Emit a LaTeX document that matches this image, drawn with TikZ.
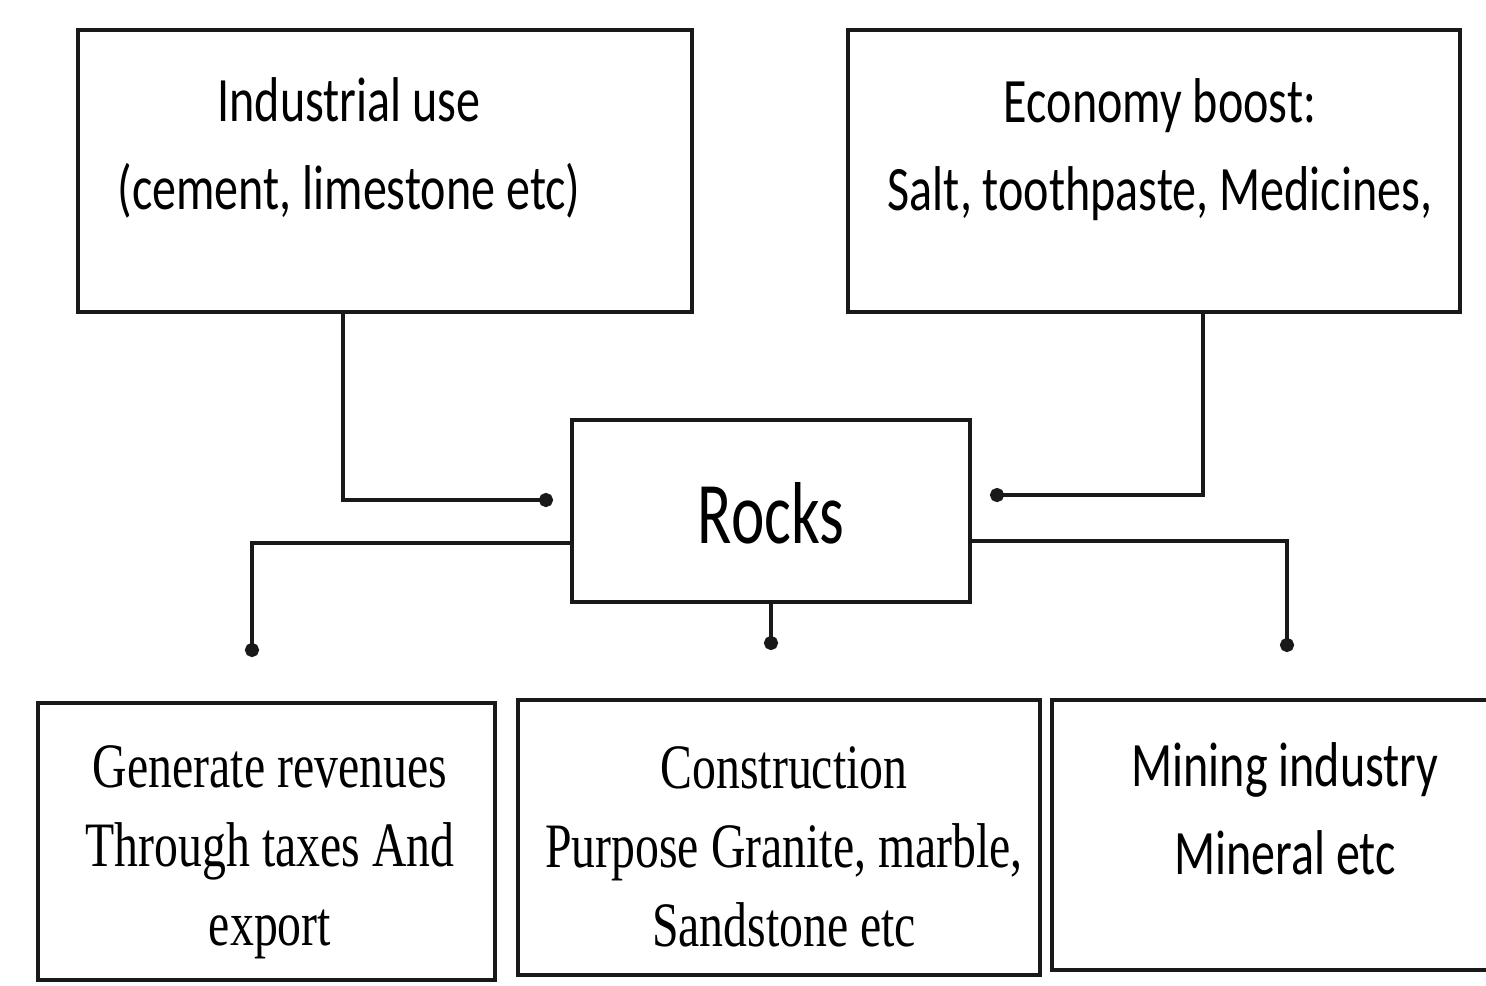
\documentclass[tikz,border=0pt]{standalone}
\usepackage{fontspec}
\usetikzlibrary{arrows.meta}
\newfontfamily\condsans[FakeStretch=0.76]{Carlito}
\newfontfamily\rocksfont[FakeStretch=0.72]{Carlito}
\newfontfamily\condserif[FakeStretch=0.755]{Liberation Serif}
\tikzset{
  box/.style={draw=black!90, line width=1.2pt, inner sep=0pt, outer sep=0pt},
  sanslabel/.style={font=\condsans\fontsize{18}{25}\selectfont, align=center, inner sep=0pt},
  seriflabel/.style={font=\condserif\fontsize{18}{22.5}\selectfont, align=center, inner sep=0pt},
  link/.style={draw=black!90, line width=1.2pt, -{Circle[length=4pt]}},
}
\begin{document}
\begin{tikzpicture}[x=0.1mm, y=-0.1mm]
\useasboundingbox (0,0) rectangle (1486,985);
\fill[white] (0,0) rectangle (1486,985);
% boxes
\node[box, minimum width=61.4mm, minimum height=28.2mm] (ind) at (385,171) {};
\node[box, minimum width=61.2mm, minimum height=28.2mm] (eco) at (1154,171) {};
\node[box, minimum width=39.8mm, minimum height=18.2mm] (rocks) at (771,511) {};
\node[box, minimum width=45.7mm, minimum height=27.7mm] (gen) at (266.5,841.5) {};
\node[box, minimum width=52.2mm, minimum height=27.5mm] (con) at (779,837.5) {};
\node[box, minimum width=44.3mm, minimum height=27.0mm] (min) at (1273.5,835) {};
% texts
\node[sanslabel] (indt) at (349,148) {Industrial use\\(cement, limestone etc)};
\node[sanslabel] (ecot) at (1160,150) {Economy boost:\\Salt, toothpaste, Medicines,};
\node[font=\rocksfont\fontsize{25}{30}\selectfont, inner sep=0pt] (rockst) at (771,513) {Rocks};
\node[seriflabel] (gent) at (270,852) {Generate revenues\\Through taxes And\\export};
\node[seriflabel] (cont) at (784,847) {Construction\\Purpose Granite, marble,\\Sandstone etc};
\node[sanslabel] (mint) at (1285,809) {Mining industry\\Mineral etc};
% free ends
\coordinate (inL) at (553,500);
\coordinate (inR) at (990,495);
\coordinate (outL) at (252,657);
\coordinate (outM) at (771,650);
\coordinate (outR) at (1287,652);
% connectors
\draw[link] (ind.south -| 343,0) |- (inL);
\draw[link] (eco.south -| 1203,0) |- (inR);
\draw[link] (rocks.west |- 0,543) -| (outL);
\draw[link] (rocks.south) -- (outM);
\draw[link] (rocks.east |- 0,541) -| (outR);
\end{tikzpicture}
\end{document}
